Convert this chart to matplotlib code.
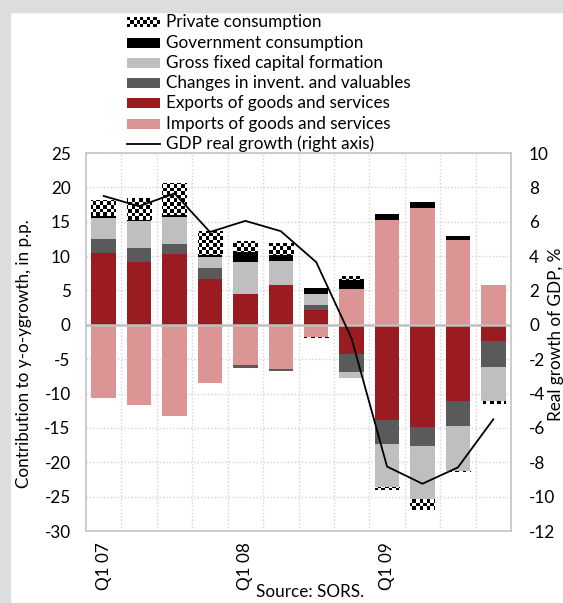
import numpy as np
import matplotlib
matplotlib.use("Agg")
import matplotlib.pyplot as plt
from matplotlib.patches import Rectangle
from matplotlib.colors import ListedColormap
from matplotlib.lines import Line2D

plt.rcParams['font.family'] = ['Lato', 'DejaVu Sans']
plt.rcParams['axes.unicode_minus'] = False

# ---- data: contributions to y-o-y GDP growth, p.p. ----
quarters = ["Q1 07", "Q2 07", "Q3 07", "Q4 07",
            "Q1 08", "Q2 08", "Q3 08", "Q4 08",
            "Q1 09", "Q2 09", "Q3 09", "Q4 09"]
tick_labels = ["Q1 07", "", "", "", "Q1 08", "", "", "", "Q1 09", "", "", ""]

exports = [10.5, 9.2, 10.35, 6.7, 4.5, 5.8, 2.2, -4.25, -13.85, -14.9, -11.15, -2.4]
imports = [-10.7, -11.6, -13.2, -8.4, -5.85, -6.5, -1.7, 5.2, 15.25, 17.05, 12.35, 5.85]
inventories = [2.0, 2.0, 1.45, 1.6, -0.4, -0.2, 0.7, -2.6, -3.55, -2.75, -3.55, -3.8]
gfcf = [3.0, 3.9, 3.9, 1.6, 4.7, 3.45, 1.6, -0.9, -6.25, -7.65, -6.5, -4.85]
government = [0.3, 0.2, 0.3, 0.2, 1.35, 0.85, 0.9, 1.35, 0.85, 0.85, 0.6, 0.0]
private = [2.4, 3.1, 4.6, 3.55, 1.7, 1.75, -0.25, 0.6, -0.45, -1.65, -0.25, -0.5]

gdp_growth = [7.5, 6.9, 7.65, 5.4, 6.05, 5.45, 3.65, -0.8, -8.25, -9.25, -8.3, -5.5]

series_names = ["Private consumption", "Government consumption",
                "Gross fixed capital formation", "Changes in invent. and valuables",
                "Exports of goods and services", "Imports of goods and services"]
line_name = "GDP real growth (right axis)"

C_EXP = "#9b1c20"
C_IMP = "#db9595"
C_INV = "#5a5a5a"
C_GFCF = "#bfbfbf"
C_GOV = "#000000"
FS = 12.3

W, H, DPI = 563, 603, 100
fig = plt.figure(figsize=(W / DPI, H / DPI), dpi=DPI)
fig.patch.set_facecolor("white")

# light grey frame bands
band = "#dcdddf"
fig.add_artist(Rectangle((0, 1 - 12 / H), 1, 12 / H, transform=fig.transFigure,
                         color=band, zorder=0))
fig.add_artist(Rectangle((0, 0), 10 / W, 1, transform=fig.transFigure,
                         color=band, zorder=0))

L, R, T, B = 86, 511, 153, 531
ax = fig.add_axes([L / W, 1 - B / H, (R - L) / W, (B - T) / H])
ax2 = ax.twinx()

x = np.arange(len(quarters))
bw = 0.69

checker_cmap = ListedColormap(["black", "white"])
ny, nx = 108, 121
big_checker = (np.indices((ny, nx)).sum(axis=0) % 2).astype(float)

pos_base = np.zeros(len(x))
neg_base = np.zeros(len(x))
order = [(exports, C_EXP), (imports, C_IMP), (inventories, C_INV),
         (gfcf, C_GFCF), (government, C_GOV), (private, None)]
for vals, col in order:
    v = np.asarray(vals, dtype=float)
    base = np.where(v >= 0, pos_base, neg_base)
    bars = ax.bar(x, v, bw, bottom=base, color=col if col else "white",
                  linewidth=0, zorder=2)
    if col is None:
        for rect in bars:
            im = ax.imshow(big_checker, extent=(-0.5, 11.5, -30, 25), cmap=checker_cmap,
                           interpolation="nearest", aspect="auto", zorder=3)
            im.set_clip_path(rect)
    pos_base = pos_base + np.where(v >= 0, v, 0)
    neg_base = neg_base + np.where(v < 0, v, 0)

ax.axhline(0, color="#c0c0c0", lw=1.8, zorder=2.5)

ax.set_xlim(-0.5, len(x) - 0.5)
ax.set_ylim(-30, 25)
ax.set_yticks(np.arange(-30, 26, 5))
ax.set_xticks(x)
ax.set_xticklabels(tick_labels, rotation=90, fontsize=FS)
ax.set_xticks(np.arange(0.5, len(x) - 1, 1), minor=True)
ax.tick_params(axis="x", which="both", length=0, pad=8)
ax.tick_params(axis="y", length=0, pad=11, labelsize=FS)
ax.grid(axis="y", which="major", ls=(0, (1, 1.5)), color="#d4d4d4", lw=1, zorder=0)
ax.grid(axis="x", which="minor", ls=(0, (1, 1.5)), color="#d4d4d4", lw=1, zorder=0)
ax.set_axisbelow(True)
for s in ax.spines.values():
    s.set_color("#c4c4c4")
    s.set_linewidth(1.2)

ax.set_ylabel("Contribution to y-o-ygrowth, in p.p.", fontsize=FS)
ax.yaxis.set_label_coords((32 - L) / (R - L), 0.47)

ax2.plot(x, gdp_growth, color="black", lw=1.3, zorder=5)
ax2.set_ylim(-12, 10)
ax2.set_yticks(np.arange(-12, 11, 2))
ax2.tick_params(axis="y", length=0, pad=13, labelsize=FS)
for s in ax2.spines.values():
    s.set_visible(False)
ax2.set_ylabel("Real growth of GDP, %", fontsize=FS)
ax2.yaxis.set_label_coords((548 - L) / (R - L), 0.52)

fig.text(310 / W, 1 - 592 / H, "Source: SORS.", ha="center", va="center", fontsize=FS)

# ---- legend drawn in figure pixel space ----
lax = fig.add_axes([0, 0, 1, 1], zorder=-1)
lax.set_xlim(0, W)
lax.set_ylim(H, 0)
lax.axis("off")
lax.patch.set_alpha(0)

rows = [22.5, 42.7, 62.8, 83.0, 103.3, 123.8, 144.2]
px0, px1, ph = 127, 160, 10
small_checker = (np.indices((3, 10)).sum(axis=0) % 2).astype(float)
lax.imshow(small_checker, extent=(px0, px1, rows[0] + ph / 2, rows[0] - ph / 2),
           cmap=checker_cmap, interpolation="nearest", aspect="auto")
for yy, col in zip(rows[1:6], [C_GOV, C_GFCF, C_INV, C_EXP, C_IMP]):
    lax.add_patch(Rectangle((px0, yy - ph / 2), px1 - px0, ph, color=col, lw=0))
lax.add_line(Line2D([px0, px1], [rows[6], rows[6]], color="black", lw=1.3))
for yy, name in zip(rows, series_names + [line_name]):
    lax.text(166, yy, name, ha="left", va="center", fontsize=FS)
lax.set_xlim(0, W)
lax.set_ylim(H, 0)

fig.savefig("out.png", dpi=DPI)
